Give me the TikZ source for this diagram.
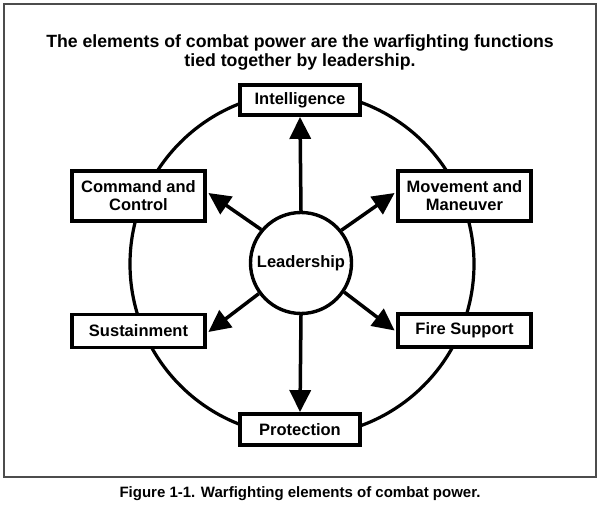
\documentclass[tikz,border=0pt]{standalone}
\usepackage{fontspec}
\setmainfont{Liberation Sans}
\usetikzlibrary{arrows.meta}

\begin{document}
\begin{tikzpicture}[x=1pt,y=1pt,>={Triangle[length=22pt,width=21pt]},
  fnbox/.style={draw,line width=3.8pt,fill=white,align=center,inner sep=0pt,
    font=\bfseries\fontsize{16.5}{18}\selectfont},
  push/.style={->,line width=3.5pt}]
\path[use as bounding box] (0,0) rectangle (599,509);
\draw[line width=1.6pt,black!70] (4,32) rectangle (596,505);
\node[font=\bfseries\fontsize{17.7}{19}\selectfont,align=center] (title) at (300,457)
  {The elements of combat power are the warfighting functions\\tied together by leadership.};
\node[font=\bfseries\fontsize{15}{17}\selectfont] (caption) at (300,15)
  {Figure 1-1. Warfighting elements of combat power.};
% ring of functions
\draw[line width=3.2pt] (302,245) circle[radius=172];
\node[fnbox,minimum width=120pt,minimum height=30pt] (intel) at (300,409) {Intelligence};
\node[fnbox,minimum width=120pt,minimum height=31pt] (prot) at (300,79.5) {Protection};
\node[fnbox,minimum width=133pt,minimum height=50pt] (cc) at (138.5,313) {Command and\\Control};
\node[fnbox,minimum width=133pt,minimum height=33pt] (sus) at (138.5,178) {Sustainment};
\node[fnbox,minimum width=133pt,minimum height=50pt] (mm) at (464.5,313) {Movement and\\Maneuver};
\node[fnbox,minimum width=133pt,minimum height=33pt] (fs) at (464.5,178.5) {Fire Support};
% leadership in the middle
\node[circle,draw,line width=3.4pt,fill=white,minimum size=101pt,inner sep=0pt,
  font=\bfseries\fontsize{16.5}{18}\selectfont] (lead) at (301,246) {Leadership};
\draw[push] (lead.north) -- (intel.south);
\draw[push] (lead.south) -- (prot.north);
\draw[push] (lead.140) -- ([xshift=1.5pt,yshift=3pt]cc.east);
\draw[push] (lead.39) -- ([xshift=-1.5pt,yshift=3pt]mm.west);
\draw[push] (lead.216) -- ([xshift=1.5pt,yshift=-1pt]sus.east);
\draw[push] (lead.326) -- ([xshift=-1.5pt]fs.west);
\end{tikzpicture}
\end{document}
